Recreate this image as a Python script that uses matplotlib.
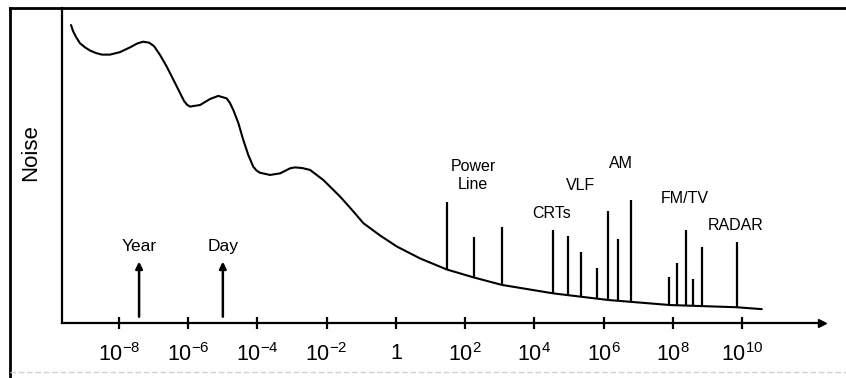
import numpy as np
import matplotlib.pyplot as plt
from matplotlib.lines import Line2D
from matplotlib.ticker import FixedLocator, FuncFormatter, NullLocator

plt.rcParams['font.family'] = ['Liberation Sans', 'DejaVu Sans']
plt.rcParams['mathtext.fontset'] = 'custom'
plt.rcParams['mathtext.rm'] = 'Liberation Sans'
plt.rcParams['mathtext.it'] = 'Liberation Sans'

# noise background versus frequency (log10 Hz, arbitrary noise units)
curve_lg = [-9.387, -9.329, -9.242, -9.127, -8.982, -8.838, -8.665, -8.491,
            -8.260, -7.971, -7.682, -7.480, -7.307, -7.133, -6.989, -6.815,
            -6.622, -6.469, -6.295, -6.122, -6.035, -5.949, -5.660, -5.371,
            -5.131, -4.888, -4.793, -4.697, -4.553, -4.409, -4.264, -4.120,
            -4.027, -3.926, -3.637, -3.348, -3.059, -2.915, -2.712, -2.481,
            -2.097, -1.610, -1.268, -0.941, -0.459, 0.024, 0.697, 1.468,
            2.237, 3.058, 4.549, 6.138, 7.921, 9.848, 10.570]
curve_noise = [94.6, 92.7, 90.8, 88.8, 87.5, 86.5, 85.7, 85.2,
               85.2, 86.0, 87.5, 88.7, 89.3, 89.0, 87.9, 85.1,
               81.4, 78.1, 74.3, 70.5, 69.3, 68.7, 69.2, 71.1,
               72.1, 71.3, 69.8, 67.6, 63.5, 58.1, 53.3, 49.6,
               48.4, 47.7, 47.0, 47.5, 49.1, 49.4, 49.2, 48.6,
               45.4, 40.1, 35.9, 31.7, 27.8, 24.3, 20.5, 17.0,
               14.5, 12.1, 9.4, 7.3, 5.7, 5.0, 4.4]

# discrete man-made sources
spike_lg = [1.47, 2.26, 3.06, 4.55, 4.96, 5.35, 5.80, 6.14, 6.43, 6.79,
            7.90, 8.13, 8.37, 8.59, 8.85, 9.85]
spike_top = [38.5, 27.2, 30.4, 29.5, 27.5, 22.4, 17.6, 35.6, 26.6, 39.0,
             14.7, 19.1, 29.5, 14.0, 24.2, 25.8]

source_labels = ['Power\nLine', 'CRTs', 'VLF', 'AM', 'FM/TV', 'RADAR']
source_lg = [2.23, 4.50, 5.32, 6.50, 8.35, 9.82]
source_noise = [46.8, 34.9, 43.5, 50.5, 39.4, 30.9]

period_labels = ['Year', 'Day']
period_lg = [-7.42, -5.0]

tick_exp = [-8, -6, -4, -2, 0, 2, 4, 6, 8, 10]

fig = plt.figure(figsize=(8.46, 3.78), dpi=100)
ax = fig.add_axes([62 / 846, 55 / 378, 760 / 846, 315 / 378])

f = np.power(10.0, curve_lg)
ax.plot(f, curve_noise, color='black', lw=1.5, solid_capstyle='round',
        solid_joinstyle='round')

sf = np.power(10.0, spike_lg)
base = np.interp(spike_lg, curve_lg, curve_noise)
ax.vlines(sf, base, spike_top, color='black', lw=1.6)

for lab, lg, y in zip(source_labels, source_lg, source_noise):
    ax.text(10 ** lg, y, lab, ha='center', va='center', fontsize=11.5,
            linespacing=1.3)

for lab, lg in zip(period_labels, period_lg):
    ax.annotate('', xy=(10 ** lg, 19.5), xytext=(10 ** lg, 2.0),
                arrowprops=dict(arrowstyle='-|>', lw=1.8, color='black',
                                mutation_scale=10, shrinkA=0, shrinkB=0))
    ax.text(10 ** lg, 24.4, lab, ha='center', va='center', fontsize=12.5)

ax.set_xscale('log')
ax.set_xlim(10 ** -9.647, 10 ** 12.31)
ax.set_ylim(0, 100)

for s in ['top', 'right']:
    ax.spines[s].set_visible(False)
for s in ['left', 'bottom']:
    ax.spines[s].set_linewidth(1.6)
ax.plot([1.0], [0], transform=ax.transAxes, marker='>', ms=6, color='black',
        clip_on=False)

ax.yaxis.set_major_locator(NullLocator())
ax.yaxis.set_minor_locator(NullLocator())
ax.xaxis.set_major_locator(FixedLocator(np.power(10.0, tick_exp)))
ax.xaxis.set_minor_locator(NullLocator())


def fmt(v, pos):
    e = int(round(np.log10(v)))
    return '1' if e == 0 else r'$10^{%d}$' % e


ax.xaxis.set_major_formatter(FuncFormatter(fmt))
ax.tick_params(axis='x', direction='inout', length=9, width=1.6,
               labelsize=15.5, pad=10)
ax.set_ylabel('Noise', fontsize=16)
ax.yaxis.set_label_coords(-0.027, 0.54)

# border round the panel
fig.add_artist(Line2D([9.5 / 846, 9.5 / 846], [0, 1 - 8 / 378],
                      transform=fig.transFigure, color='black', lw=2))
fig.add_artist(Line2D([9.5 / 846, 1], [1 - 8 / 378, 1 - 8 / 378],
                      transform=fig.transFigure, color='black', lw=2))
fig.add_artist(Line2D([9.5 / 846, 1], [1 - 372 / 378, 1 - 372 / 378],
                      transform=fig.transFigure, color='#d0d0d0', lw=1,
                      linestyle=(0, (4, 2))))

fig.savefig('out.png', dpi=100)
